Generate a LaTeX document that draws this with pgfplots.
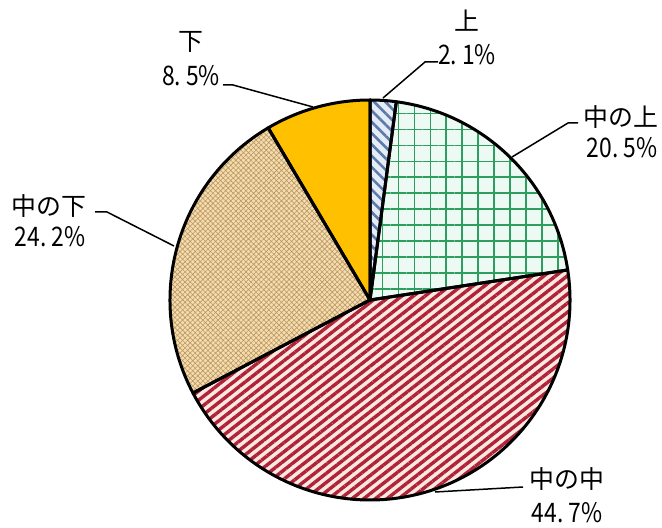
\documentclass[border=0pt]{standalone}
\usepackage{pgfplots}
\pgfplotsset{compat=1.18}
\usepackage{fontspec}
\setmainfont{Noto Sans CJK JP}
\newfontfamily\jp{Noto Sans CJK JP}
\newfontfamily\num[FakeStretch=0.85]{Noto Sans CJK JP}
\usetikzlibrary{patterns.meta}
\definecolor{cBlueBg}{HTML}{E6ECF5}
\definecolor{cBlue}{HTML}{5D7BA9}
\definecolor{cGreenBg}{HTML}{EDFAF4}
\definecolor{cGreen}{HTML}{2E9E5E}
\definecolor{cRedBg}{HTML}{FAE8E2}
\definecolor{cRed}{HTML}{B02236}
\definecolor{cTanBg}{HTML}{F3DEB0}
\definecolor{cTan}{HTML}{BE9662}
\definecolor{cOrange}{HTML}{FFC000}
% slice: start angle, end angle, style
\newcommand\pieslice[3]{%
  \path[#3] (axis cs:370,228) -- +(#1:200bp) arc[start angle=#1, end angle=#2, radius=200bp] -- cycle;}
\begin{document}
\begin{tikzpicture}
% shares (percent), clockwise from 12 o'clock
\def\pA{2.1}  % 上
\def\pB{20.5} % 中の上
\def\pC{44.7} % 中の中
\def\pD{24.2} % 中の下
\def\pE{8.5}  % 下
\pgfmathsetmacro\aA{90-3.6*\pA}
\pgfmathsetmacro\aB{\aA-3.6*\pB}
\pgfmathsetmacro\aC{\aB-3.6*\pC}
\pgfmathsetmacro\aD{\aC-3.6*\pD}
\pgfmathsetmacro\aE{\aD-3.6*\pE}
\begin{axis}[hide axis, scale only axis, width=662bp, height=528bp,
  xmin=0, xmax=662, ymin=0, ymax=528, clip=false]
\path (axis cs:0,0) (axis cs:662,528);
% fills
\pieslice{90}{\aA}{fill=cBlueBg, postaction={pattern={Lines[angle=-45,distance=8pt,line width=2.6pt]}, pattern color=cBlue}}
\pieslice{\aA}{\aB}{fill=cGreenBg, postaction={pattern={Hatch[angle=0,distance=16pt,line width=1.7pt]}, pattern color=cGreen}}
\pieslice{\aB}{\aC}{fill=cRedBg, postaction={pattern={Lines[angle=38,distance=7.2pt,line width=3.4pt]}, pattern color=cRed}}
\pieslice{\aC}{\aD}{fill=cTanBg, postaction={pattern={Hatch[angle=45,distance=3.6pt,line width=0.6pt]}, pattern color=cTan}}
\pieslice{\aD}{\aE}{fill=cOrange}
% outlines
\pieslice{90}{\aA}{draw=black, line width=3bp, line join=round}
\pieslice{\aA}{\aB}{draw=black, line width=3bp, line join=round}
\pieslice{\aB}{\aC}{draw=black, line width=3bp, line join=round}
\pieslice{\aC}{\aD}{draw=black, line width=3bp, line join=round}
\pieslice{\aD}{\aE}{draw=black, line width=3bp, line join=round}
% leader lines
\draw[line width=1.5bp] (axis cs:383,430) -- (axis cs:425,466) -- (axis cs:438,466);
\draw[line width=1.5bp] (axis cs:512,371) -- (axis cs:568,405) -- (axis cs:578,405);
\draw[line width=1.5bp] (axis cs:435,36) -- (axis cs:523,41);
\draw[line width=1.5bp] (axis cs:95,316) -- (axis cs:107,316) -- (axis cs:174,282);
\draw[line width=1.5bp] (axis cs:223,443) -- (axis cs:233,443) -- (axis cs:313,421);
% labels
\node[inner sep=0, anchor=center] at (axis cs:467,507) {\fontsize{25}{29}\selectfont\jp 上};
\node[inner sep=0, anchor=center] at (axis cs:467,473) {\fontsize{27}{31}\selectfont\num 2.\hspace{0.18em}1\%};
\node[inner sep=0, anchor=center] at (axis cs:621,411) {\fontsize{25}{29}\selectfont\jp 中の上};
\node[inner sep=0, anchor=center] at (axis cs:622,380) {\fontsize{27}{31}\selectfont\num 20.\hspace{0.18em}5\%};
\node[inner sep=0, anchor=center] at (axis cs:567,49) {\fontsize{25}{29}\selectfont\jp 中の中};
\node[inner sep=0, anchor=center] at (axis cs:567,15) {\fontsize{27}{31}\selectfont\num 44.\hspace{0.18em}7\%};
\node[inner sep=0, anchor=center] at (axis cs:49,322) {\fontsize{25}{29}\selectfont\jp 中の下};
\node[inner sep=0, anchor=center] at (axis cs:50,291) {\fontsize{27}{31}\selectfont\num 24.\hspace{0.18em}2\%};
\node[inner sep=0, anchor=center] at (axis cs:191,486) {\fontsize{25}{29}\selectfont\jp 下};
\node[inner sep=0, anchor=center] at (axis cs:191,452) {\fontsize{27}{31}\selectfont\num 8.\hspace{0.18em}5\%};
\end{axis}
\end{tikzpicture}
\end{document}
